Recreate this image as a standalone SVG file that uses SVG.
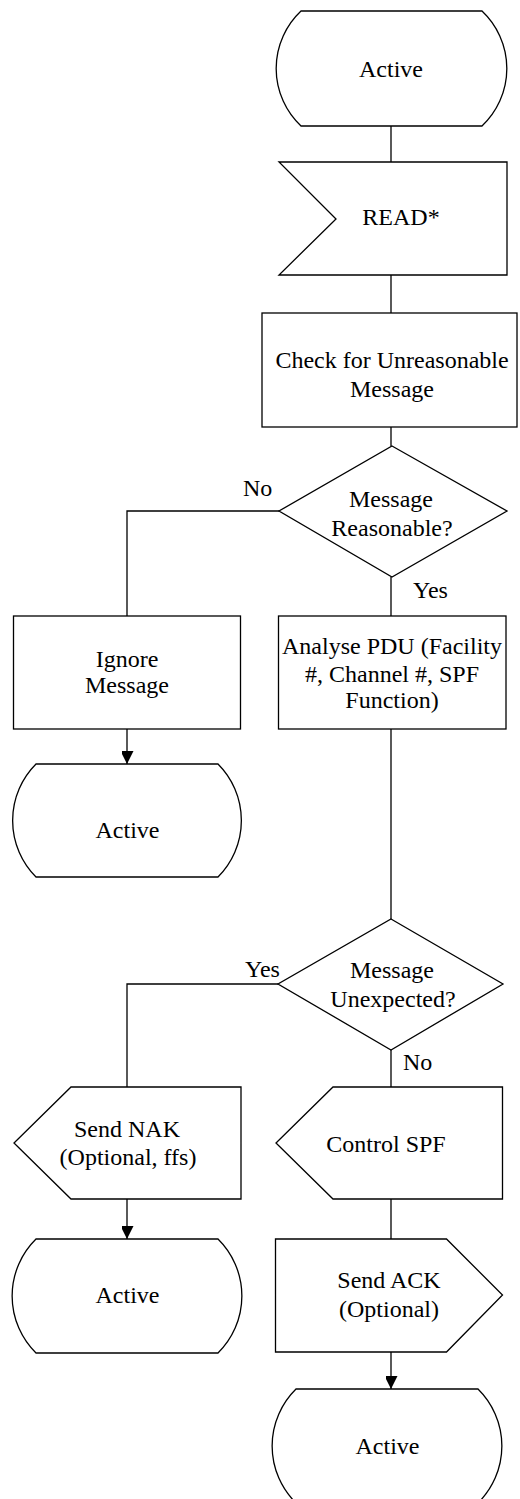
<svg xmlns="http://www.w3.org/2000/svg" width="520" height="1499" viewBox="0 0 520 1499">
<style>
.s{fill:#fff;stroke:#000;stroke-width:1.3}
.c{fill:none;stroke:#000;stroke-width:1.3}
text{font-family:"Liberation Serif","Times New Roman",serif;font-size:24px;fill:#000}
.m{text-anchor:middle}
</style>
<defs>
<marker id="ah" markerUnits="userSpaceOnUse" markerWidth="14" markerHeight="12" refX="13" refY="6.5" orient="auto">
<path d="M0,0 L13,6.5 L0,13 Z" fill="#000"/>
</marker>
</defs>
<rect width="520" height="1499" fill="#fff"/>
<g id="connectors">
<path class="c" d="M391,126 V162"/>
<path class="c" d="M391,275 V313"/>
<path class="c" d="M391,427 V446"/>
<path class="c" d="M391,577 V616"/>
<path class="c" d="M279,511 H127 V616"/>
<path class="c" d="M127,729 V764" marker-end="url(#ah)"/>
<path class="c" d="M391,729 V919"/>
<path class="c" d="M278,984 H127 V1087"/>
<path class="c" d="M391,1050 V1087"/>
<path class="c" d="M127,1199 V1239" marker-end="url(#ah)"/>
<path class="c" d="M391,1199 V1239"/>
<path class="c" d="M391,1352 V1389" marker-end="url(#ah)"/>
<text x="243" y="496">No</text>
<text x="413" y="598">Yes</text>
<text x="245" y="977">Yes</text>
<text x="403" y="1070">No</text>
</g>
<g id="active1">
<path class="s" d="M301,11 H482 A79,79 0 0 1 482,126 H301 A79,79 0 0 1 301,11 Z"/>
<text class="m" x="391" y="77">Active</text>
</g>
<g id="read">
<polygon class="s" points="279,162 507,162 507,275 279,275 336,219"/>
<text class="m" x="401" y="225">READ*</text>
</g>
<g id="check">
<rect class="s" x="262" y="313" width="255" height="114"/>
<text class="m" x="392" y="368">Check for Unreasonable</text>
<text class="m" x="392" y="397">Message</text>
</g>
<g id="reasonable">
<polygon class="s" points="392,446 507,511 392,577 279,511"/>
<text class="m" x="391" y="507">Message</text>
<text class="m" x="392" y="536">Reasonable?</text>
</g>
<g id="ignore">
<rect class="s" x="13.5" y="616" width="227" height="113"/>
<text class="m" x="127" y="667">Ignore</text>
<text class="m" x="127" y="693">Message</text>
</g>
<g id="active2">
<path class="s" d="M36,764 H218 A80,80 0 0 1 218,877 H36 A80,80 0 0 1 36,764 Z"/>
<text class="m" x="127.5" y="838">Active</text>
</g>
<g id="analyse">
<rect class="s" x="278.5" y="616" width="227.5" height="113"/>
<text class="m" x="392" y="654">Analyse PDU (Facility</text>
<text class="m" x="392" y="682">#, Channel #, SPF</text>
<text class="m" x="392" y="708">Function)</text>
</g>
<g id="unexpected">
<polygon class="s" points="391,919 503,984 391,1050 278,984"/>
<text class="m" x="392" y="978">Message</text>
<text class="m" x="393" y="1007">Unexpected?</text>
</g>
<g id="sendnak">
<polygon class="s" points="71,1087 241,1087 241,1199 71,1199 14,1143"/>
<text class="m" x="127" y="1137">Send NAK</text>
<text class="m" x="128" y="1165">(Optional, ffs)</text>
</g>
<g id="controlspf">
<polygon class="s" points="333,1087 502.5,1087 502.5,1199 333,1199 276,1143"/>
<text class="m" x="386" y="1152">Control SPF</text>
</g>
<g id="active3">
<path class="s" d="M36,1239 H218 A80,80 0 0 1 218,1353 H36 A80,80 0 0 1 36,1239 Z"/>
<text class="m" x="127.5" y="1303">Active</text>
</g>
<g id="sendack">
<polygon class="s" points="275.5,1239 446.5,1239 502.5,1295 446.5,1352 275.5,1352"/>
<text class="m" x="389" y="1288">Send ACK</text>
<text class="m" x="389" y="1317">(Optional)</text>
</g>
<g id="active4">
<path class="s" d="M296,1389 H478 A80,80 0 0 1 478,1503 H296 A80,80 0 0 1 296,1389 Z"/>
<text class="m" x="387.5" y="1454">Active</text>
</g>
</svg>
